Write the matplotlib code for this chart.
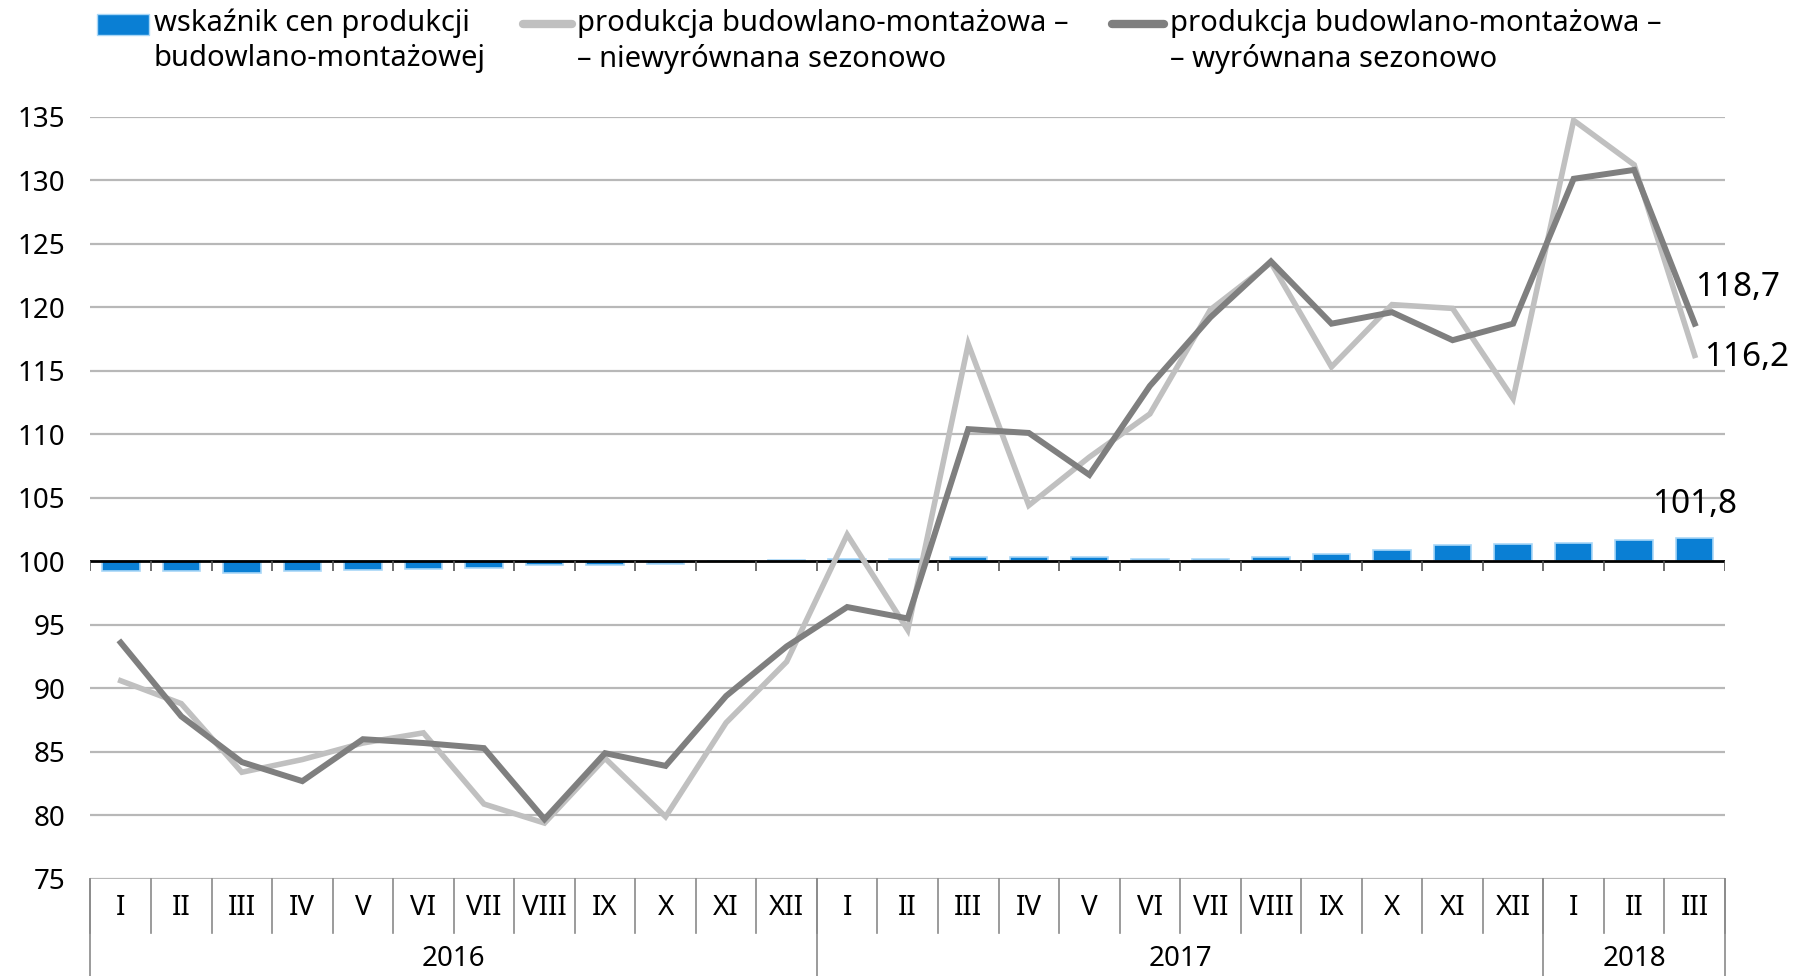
import matplotlib
matplotlib.use("Agg")
import matplotlib.pyplot as plt
from matplotlib.lines import Line2D
from matplotlib.patches import Rectangle

plt.rcParams['font.family'] = ['Noto Sans', 'DejaVu Sans']

months = ["I", "II", "III", "IV", "V", "VI", "VII", "VIII", "IX", "X", "XI", "XII",
          "I", "II", "III", "IV", "V", "VI", "VII", "VIII", "IX", "X", "XI", "XII",
          "I", "II", "III"]
years = ["2016", "2017", "2018"]
year_counts = [12, 12, 3]

price_index = [99.2, 99.2, 99.1, 99.2, 99.3, 99.4, 99.5, 99.7, 99.7, 99.8, 100.0, 100.1,
               100.15, 100.2, 100.3, 100.3, 100.3, 100.2, 100.2, 100.3, 100.6, 100.9, 101.25, 101.35,
               101.45, 101.65, 101.8]
unadjusted = [90.6, 88.8, 83.4, 84.4, 85.7, 86.5, 80.9, 79.4, 84.5, 79.9, 87.3, 92.1,
              102.1, 94.6, 117.1, 104.4, 108.2, 111.6, 119.8, 123.5, 115.3, 120.2, 119.9, 112.8,
              134.7, 131.2, 116.2]
adjusted = [93.6, 87.8, 84.2, 82.7, 86.0, 85.7, 85.3, 79.7, 84.9, 83.9, 89.4, 93.3,
            96.4, 95.5, 110.4, 110.1, 106.8, 113.8, 119.2, 123.6, 118.7, 119.6, 117.4, 118.7,
            130.1, 130.8, 118.7]

legend_labels = ["wskaźnik cen produkcji\nbudowlano-montażowej",
                 "produkcja budowlano-montażowa –\n– niewyrównana sezonowo",
                 "produkcja budowlano-montażowa –\n– wyrównana sezonowo"]

BLUE = "#0a7fd4"
LIGHT = "#c0c0c0"
DARK = "#7f7f7f"
GRID = "#b8b8b8"

fig = plt.figure(figsize=(17.95, 9.76), dpi=100)
ax = fig.add_axes([0.0504, 0.0994, 0.9106, 0.7812])

n = len(months)
x = list(range(n))
ax.set_xlim(-0.5, n - 0.5)
ax.set_ylim(75, 135)

yt = list(range(75, 140, 5))
for v in yt:
    if v != 100:
        ax.axhline(v, color=GRID, lw=1.6, zorder=0)

ax.bar(x, [p - 100 for p in price_index], bottom=100, width=0.62, color=BLUE,
       edgecolor="#a9d7f7", linewidth=1.2, zorder=2)
ax.axhline(100, color="black", lw=2, zorder=3)
ax.vlines([i - 0.5 for i in range(n + 1)], 99.2, 100, color="#555555", lw=1.2, zorder=3)

ax.plot(x, unadjusted, color=LIGHT, lw=4.0, zorder=4, solid_joinstyle='miter')
ax.plot(x, adjusted, color=DARK, lw=4.3, zorder=5, solid_joinstyle='miter')

ax.set_yticks(yt)
ax.set_yticklabels([str(v) for v in yt], fontsize=20)
ax.tick_params(axis='y', length=0, pad=18)
ax.set_xticks([])
for s in ax.spines.values():
    s.set_visible(False)

tr = ax.get_xaxis_transform()
for i, m in enumerate(months):
    ax.text(i, -0.038, m, transform=tr, ha='center', va='center', fontsize=20)
# month separators
for i in range(n + 1):
    ax.plot([i - 0.5, i - 0.5], [0, -0.071], transform=tr, color="#8a8a8a", lw=1.2, clip_on=False)
# year separators and labels
start = 0
bounds = [0]
for yl, c in zip(years, year_counts):
    ax.text(start + (c - 1) / 2, -0.105, yl, transform=tr, ha='center', va='center', fontsize=20)
    start += c
    bounds.append(start)
for b in bounds:
    ax.plot([b - 0.5, b - 0.5], [0, -0.128], transform=tr, color="#8a8a8a", lw=1.2, clip_on=False)

# data labels
ax.annotate("118,7", (n - 1, adjusted[-1]), xytext=(0, 36), textcoords='offset pixels',
            ha='left', va='center', fontsize=24)
ax.annotate("116,2", (n - 1, unadjusted[-1]), xytext=(9, -2), textcoords='offset pixels',
            ha='left', va='center', fontsize=24)
ax.annotate("101,8", (n - 1, price_index[-1]), xytext=(0, 34), textcoords='offset pixels',
            ha='center', va='center', fontsize=24)

# legend (manual)
W, H = 1795.0, 976.0
def fx(px):
    return px / W
def fy(py):
    return 1 - py / H

fig.patches.append(Rectangle((fx(97), fy(35)), fx(149) - fx(97), fy(14) - fy(35),
                             transform=fig.transFigure, facecolor=BLUE, edgecolor="#a9d7f7", lw=1))
fig.lines.append(Line2D([fx(523), fx(572)], [fy(24), fy(24)], transform=fig.transFigure,
                        color=LIGHT, lw=6, solid_capstyle='round'))
fig.lines.append(Line2D([fx(1112), fx(1164)], [fy(24), fy(24)], transform=fig.transFigure,
                        color=DARK, lw=6, solid_capstyle='round'))
for xp, lab in zip([154, 577, 1170], legend_labels):
    fig.text(fx(xp), fy(9), lab, ha='left', va='top', fontsize=21, linespacing=1.25)

fig.savefig("out.png", dpi=100)
